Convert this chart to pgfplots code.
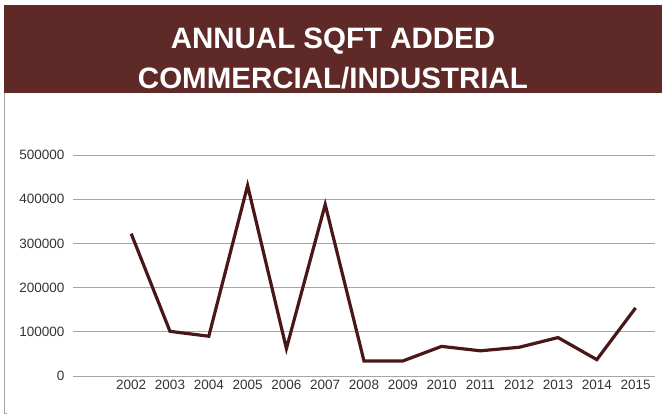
\documentclass[border=0pt]{standalone}
\usepackage{fontspec}
\setmainfont{Liberation Sans}
\usepackage{pgfplots}
\pgfplotsset{compat=1.18}
\definecolor{band}{HTML}{5E2926}
\definecolor{sqline}{HTML}{4A1719}
\definecolor{gridgray}{HTML}{A6A6A6}

\begin{document}
\begin{tikzpicture}[x=1pt,y=1pt]
% page frame 662 x 414, y upwards
\path (0,0) rectangle (662,414);
\fill[band] (4,409) rectangle (662,321);
\draw[gray!70, line width=0.8pt] (4,321) -- (4,1) -- (7,1);
\node[anchor=base, text=white, font=\bfseries\fontsize{29.5}{36}\selectfont, inner sep=0pt] at (333,365) {ANNUAL SQFT ADDED};
\node[anchor=base, text=white, font=\bfseries\fontsize{29.5}{36}\selectfont, inner sep=0pt] at (333,325) {COMMERCIAL/INDUSTRIAL};

\begin{axis}[
  at={(73pt,38pt)}, anchor=south west,
  scale only axis, width=582pt, height=221pt,
  xmin=-0.5, xmax=14.5, ymin=0, ymax=500000,
  axis line style={draw=none},
  tick style={draw=none},
  ymajorgrids, grid style={gridgray, line width=0.9pt},
  xtick={1,...,14},
  xticklabels={2002,2003,2004,2005,2006,2007,2008,2009,2010,2011,2012,2013,2014,2015},
  ytick={0,100000,...,500000},
  scaled y ticks=false,
  /pgf/number format/assume math mode=true,
  yticklabel={\pgfmathprintnumber[fixed,precision=0,1000 sep={}]{\tick}},
  tick label style={font=\fontsize{13.5}{15}\selectfont, text=black!80},
  yticklabel style={anchor=east, xshift=-5pt},
  xticklabel style={anchor=center, yshift=-9pt},
  major tick length=0pt,
  clip=false,
]
\addplot[sqline, line width=3.2pt, line join=miter] coordinates {
(1,322000) (2,101000) (3,90000) (4,431000) (5,62000) (6,388000)
(7,34000) (8,34000) (9,67000) (10,57000) (11,65000) (12,87000)
(13,37000) (14,154000)
};
\end{axis}
\end{tikzpicture}
\end{document}
